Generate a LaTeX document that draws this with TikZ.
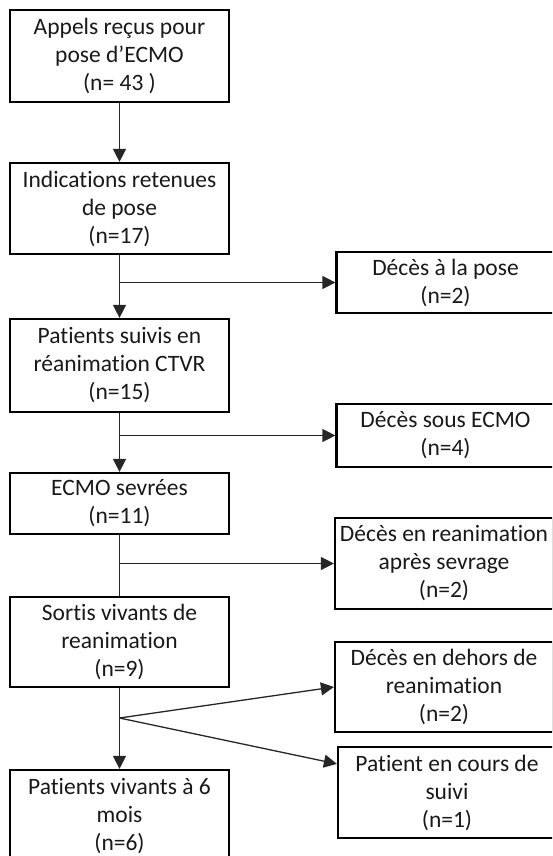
\documentclass[tikz,border=0pt]{standalone}
\usepackage{fontspec}
\setmainfont{Carlito}[Ligatures=NoCommon]
\usetikzlibrary{arrows.meta,calc}
\begin{document}
\begin{tikzpicture}[x=1pt,y=-1pt,
  box/.style={draw=black,line width=2.2pt,align=center,inner sep=0pt,
    font=\fontsize{23.5}{28}\selectfont,text=black!90},
  lbox/.style={box,minimum width=219pt},
  rbox/.style={box,minimum width=218pt},
  conn/.style={line width=1.3pt,draw=black!85},
  arr/.style={conn,-{Triangle[length=13pt,width=13pt]}}]
\useasboundingbox (0,0) rectangle (552,856);
\clip (0,0) rectangle (552,856);
\node[lbox,minimum height=92pt] (b1) at (119.5,56) {Appels reçus pour\\pose d’ECMO\\(n= 43 )};
\node[lbox,minimum height=91pt] (b2) at (119.5,208.5) {Indications retenues\\de pose\\(n=17)};
\node[lbox,minimum height=93pt] (b3) at (119.5,365.5) {Patients suivis en\\réanimation CTVR\\(n=15)};
\node[lbox,minimum height=61pt] (b4) at (119.5,503.5) {ECMO sevrées\\(n=11)};
\node[lbox,minimum height=90pt] (b5) at (119.5,642) {Sortis vivants de\\reanimation\\(n=9)};
\node[lbox,minimum height=92pt] (b6) at (119.5,816) {Patients vivants à 6\\mois\\(n=6)};
\node[rbox,minimum height=61pt] (r1) at (445.5,282.5) {Décès à la pose\\(n=2)};
\node[rbox,minimum height=63pt] (r2) at (445.5,435.5) {Décès sous ECMO\\(n=4)};
\node[rbox,minimum height=91pt] (r3) at (444,563.5) {Décès en reanimation\\après sevrage\\(n=2)};
\node[rbox,minimum height=90pt] (r4) at (444,687) {Décès en dehors de\\reanimation\\(n=2)};
\node[rbox,minimum height=91pt] (r5) at (447,792.5) {Patient en cours de\\suivi\\(n=1)};
\coordinate (f1) at (b2.south |- r1.west);
\coordinate (f2) at (b3.south |- r2.west);
\coordinate (f3) at (b4.south |- r3.west);
\coordinate (f4) at (119.5,718);
\coordinate (t5) at ($(r5.north west)+(0,18)$);
\draw[arr] (b1) -- (b2);
\draw[arr] (b2) -- (b3);
\draw[arr] (f1) -- (r1.west);
\draw[arr] (b3) -- (b4);
\draw[arr] (f2) -- (r2.west);
\draw[conn] (b4) -- (b5);
\draw[arr] (f3) -- (r3.west);
\draw[arr] (b5) -- (b6);
\draw[arr] (f4) -- (r4.west);
\draw[arr] (f4) -- (t5);
\end{tikzpicture}
\end{document}
